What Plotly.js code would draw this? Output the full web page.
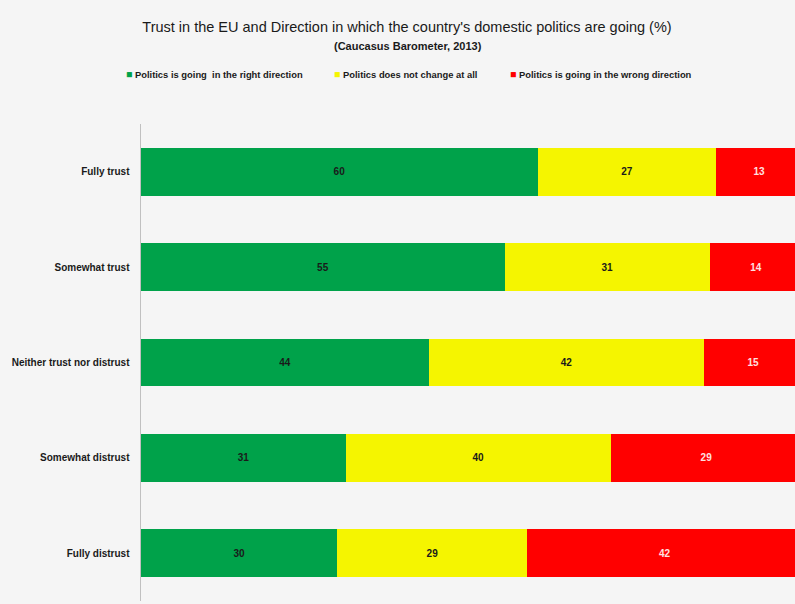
<!DOCTYPE html>
<html>
<head>
<meta charset="utf-8">
<script src="https://cdn.plot.ly/plotly-3.0.1.min.js"></script>
<style>
html,body{margin:0;padding:0;background:#f5f5f5;overflow:hidden;}
#chart{width:795px;height:604px;}
</style>
</head>
<body>
<div id="chart"></div>
<script>
var categories = ["Fully trust", "Somewhat trust", "Neither trust nor distrust", "Somewhat distrust", "Fully distrust"];
var seriesNames = ["Politics is going  in the right direction", "Politics does not change at all", "Politics is going in the wrong direction"];
var rightDirection = [60, 55, 44, 31, 30];
var noChange = [27, 31, 42, 40, 29];
var wrongDirection = [13, 14, 15, 29, 42];
var seriesColors = ["#00a24a", "#f5f500", "#ff0000"];
var labelColors = ["#1a1a1a", "#1a1a1a", "#ffe0e0"];
var legendWidths = [163, 131, 180];
var values = [rightDirection, noChange, wrongDirection];

var FONT = "Liberation Sans, Arial, sans-serif";
var traces = [];
values.forEach(function (vals, i) {
  traces.push({
    type: "bar",
    orientation: "h",
    y: categories,
    x: vals,
    name: seriesNames[i],
    marker: {color: seriesColors[i], line: {width: 0}},
    text: vals.map(String),
    textposition: "inside",
    insidetextanchor: "middle",
    textfont: {family: FONT, size: 10, color: labelColors[i], weight: "bold"},
    hoverinfo: "skip",
    showlegend: false
  });
});
// legend entries (square drawn as coloured glyph before the text)
values.forEach(function (vals, i) {
  traces.push({
    type: "scatter",
    mode: "markers",
    x: [null],
    y: [null],
    name: '<span style="color:' + seriesColors[i] + ';font-size:10.5px">\u25A0</span> ' + seriesNames[i],
    marker: {symbol: "square", size: 1, color: "rgba(0,0,0,0)", line: {width: 0}},
    legendwidth: legendWidths[i],
    hoverinfo: "skip",
    showlegend: true
  });
});

var layout = {
  width: 795,
  height: 604,
  paper_bgcolor: "#f5f5f5",
  plot_bgcolor: "#f5f5f5",
  margin: {l: 141, r: 0, t: 124, b: 3},
  barmode: "stack",
  barnorm: "percent",
  bargap: 0.5,
  font: {family: FONT, color: "#1a1a1a"},
  title: {
    text: "Trust in the EU and Direction in which the country's domestic politics are going (%)",
    font: {family: FONT, size: 14.5, color: "#1a1a1a"},
    x: 407 / 795, xanchor: "center", xref: "container",
    y: 1 - 27 / 604, yanchor: "middle", yref: "container"
  },
  annotations: [{
    text: "<b>(Caucasus Barometer, 2013)</b>",
    xref: "paper", yref: "paper",
    x: (408 - 141) / 654, y: 1 + (124 - 46) / 477,
    xanchor: "center", yanchor: "middle",
    showarrow: false,
    font: {family: FONT, size: 11, color: "#1a1a1a"}
  }],
  legend: {
    orientation: "h",
    traceorder: "normal",
    x: (86 - 141) / 654, xanchor: "left",
    y: 1 + (124 - 74) / 477, yanchor: "middle",
    font: {family: FONT, size: 9.4, color: "#1a1a1a", weight: "bold"},
    bgcolor: "rgba(0,0,0,0)",
    itemwidth: 30
  },
  xaxis: {
    range: [0, 98.9],
    showgrid: false, zeroline: false, showticklabels: false, showline: false, ticks: "",
    fixedrange: true
  },
  yaxis: {
    type: "category",
    autorange: "reversed",
    showgrid: false, zeroline: false,
    showline: true, linecolor: "#c0c0c0", linewidth: 1.5,
    ticks: "",
    ticklabelstandoff: 8,
    tickfont: {family: FONT, size: 10, color: "#1a1a1a", weight: "bold"},
    fixedrange: true
  }
};

Plotly.newPlot("chart", traces, layout, {displayModeBar: false, staticPlot: true});
</script>
</body>
</html>
